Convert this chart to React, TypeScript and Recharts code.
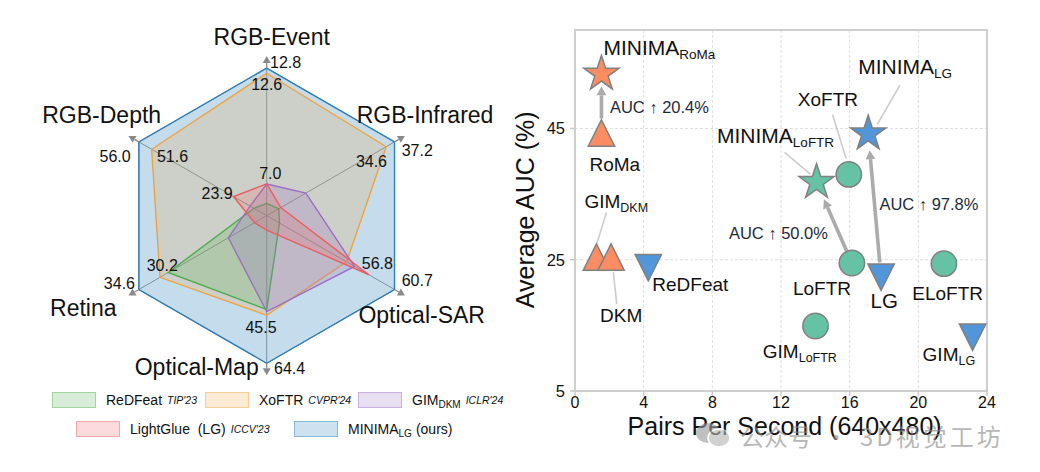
import React from 'react'
import {
  RadarChart, Radar, PolarGrid, PolarAngleAxis, PolarRadiusAxis,
  ScatterChart, Scatter, XAxis, YAxis, CartesianGrid, ReferenceLine, ReferenceArea, Label,
} from 'recharts'

const FONT = '"Liberation Sans", Arial, Helvetica, sans-serif'

// ---------- radar data ----------
const axes = ['RGB-Event', 'RGB-Infrared', 'Optical-SAR', 'Optical-Map', 'Retina', 'RGB-Depth']
// radial position on each axis, as a share of the outer ring (each axis has its own scale)
const minimaLG = [1, 1, 1, 1, 1, 1]
const xoftr = [0.965, 0.935, 0.625, 0.675, 0.835, 0.9]
const redfeat = [0.084, 0.094, 0.1, 0.635, 0.77, 0.1]
const gimDKM = [0.215, 0.306, 0.687, 0.65, 0.3, 0.13]
const lightglue = [0.215, 0.11, 0.8, 0.097, 0.095, 0.26]
// printed scores
const minimaScores = ['12.8', '37.2', '60.7', '64.4', '34.6', '56.0']
const xoftrScores = ['12.6', '34.6', '', '45.5', '30.2', '51.6']
const lightglueScores = ['7.0', '', '56.8', '', '', '23.9']

// ---------- scatter data ----------
const methods = ['MINIMA_RoMa', 'RoMa', 'GIM_DKM', 'DKM', 'ReDFeat', 'XoFTR', 'MINIMA_LoFTR', 'LoFTR', 'MINIMA_LG', 'LG', 'ELoFTR', 'GIM_LoFTR', 'GIM_LG']
const pairsPerSecond = [1.54, 1.54, 1.25, 2.1, 4.27, 15.95, 14.07, 16.13, 17.08, 17.83, 21.49, 14.01, 23.16]
const averageAUC = [53.3, 44.3, 25.4, 25.4, 23.8, 38.0, 36.8, 24.5, 44.2, 22.35, 24.4, 14.9, 13.2]
const gainFrom = ['RoMa', 'LoFTR', 'LG']
const gainTo = ['MINIMA_RoMa', 'MINIMA_LoFTR', 'MINIMA_LG']
const gainText = ['AUC ↑ 20.4%', 'AUC ↑ 50.0%', 'AUC ↑ 97.8%']
const xTicks = [0, 4, 8, 12, 16, 20, 24]
const yTicks = [5, 25, 45]

const radarData = axes.map((axis, i) => ({
  axis,
  minima: minimaLG[i],
  xoftr: xoftr[i],
  redfeat: redfeat[i],
  gim: gimDKM[i],
  lightglue: lightglue[i],
}))

const scatterData = methods.map((name, i) => ({ name, x: pairsPerSecond[i], y: averageAUC[i] }))

// ---------- radar styling ----------
const R_CX = 266.7
const R_CY = 215.7
const R_R = 147.6

type Off = [number, number, 'start' | 'middle' | 'end'] | null

const MINIMA_OFF: Off[] = [[3.3, -5.8, 'start'], [7.2, 8.8, 'start'], [7.2, -9.5, 'start'], [7.3, 5, 'start'], [-3.9, -6.2, 'end'], [-8.2, 14.8, 'end']]
const XOFTR_OFF: Off[] = [[0, 11.7, 'middle'], [0.8, 15.3, 'end'], null, [-5.7, 11.7, 'middle'], [2.3, -12.3, 'middle'], [5.3, 7.7, 'start']]
const LG_OFF: Off[] = [[3.6, -10, 'middle'], null, [-7.2, -11.4, 'start'], null, null, [-0.8, -3.2, 'end']]

const AXIS_LABEL_OFF: Record<string, [number, number]> = {
  'RGB-Event': [5, -31.4],
  'RGB-Infrared': [30.5, -26.9],
  'Optical-SAR': [27.2, 25.5],
  'Optical-Map': [-70, 3.4],
  'Retina': [-55.6, 18.8],
  'RGB-Depth': [-37.2, -26.9],
}

const RADAR_SERIES = [
  { key: 'minima', name: 'MINIMA_LG', venue: '(ours)', color: '#1f77b4', stroke: '#2f7fb8', fillOpacity: 0.26, scores: minimaScores, off: MINIMA_OFF },
  { key: 'xoftr', name: 'XoFTR', venue: "CVPR'24", color: '#f2a23c', stroke: '#f2a23c', fillOpacity: 0.2, scores: xoftrScores, off: XOFTR_OFF },
  { key: 'redfeat', name: 'ReDFeat', venue: "TIP'23", color: '#4fae4f', stroke: '#4fae4f', fillOpacity: 0.22, scores: null, off: null },
  { key: 'gim', name: 'GIM_DKM', venue: "ICLR'24", color: '#9b6fc4', stroke: '#9b6fc4', fillOpacity: 0.25, scores: null, off: null },
  { key: 'lightglue', name: 'LightGlue\u00a0 (LG)', venue: "ICCV'23", color: '#ef5b5f', stroke: '#ef5b5f', fillOpacity: 0.2, scores: lightglueScores, off: LG_OFF },
]

// legend placement (left edge of swatch, row centre)
const LEGEND_POS: Record<string, [number, number]> = {
  redfeat: [52, 400],
  xoftr: [205, 400],
  gim: [358, 400],
  lightglue: [76, 429],
  minima: [294, 429],
}
const LEGEND_ORDER = ['redfeat', 'xoftr', 'gim', 'lightglue', 'minima']

function AxisTick(props: any) {
  const { payload } = props
  const name = payload.value
  const rad = (payload.coordinate * Math.PI) / 180
  const ux = Math.cos(rad)
  const uy = -Math.sin(rad)
  const vx = R_CX + R_R * ux
  const vy = R_CY + R_R * uy
  const tipR = R_R + 12
  const baseR = R_R + 5
  const tx = R_CX + tipR * ux
  const ty = R_CY + tipR * uy
  const bx = R_CX + baseR * ux
  const by = R_CY + baseR * uy
  const px = -uy
  const py = ux
  const off = AXIS_LABEL_OFF[name] || [0, 0]
  return (
    <g>
      <line x1={vx} y1={vy} x2={bx} y2={by} stroke="#8a8a8a" strokeWidth={1.3} />
      <polygon points={`${tx},${ty} ${bx + px * 4},${by + py * 4} ${bx - px * 4},${by - py * 4}`} fill="#8a8a8a" />
      <text x={vx + off[0]} y={vy + off[1]} textAnchor="middle" dominantBaseline="central" fontSize={23} fill="#111" fontFamily={FONT}>
        {name}
      </text>
    </g>
  )
}

const makeScoreDot = (scores: string[], offs: Off[]) => (props: any) => {
  const { cx, cy, index } = props
  const s = scores[index]
  const o = offs[index]
  if (!s || !o) return <g key={`sd-${index}`} />
  return (
    <text key={`sd-${index}`} x={cx + o[0]} y={cy + o[1]} textAnchor={o[2]} dominantBaseline="central" fontSize={16} fill="#111" stroke="none" fontFamily={FONT}>
      {s}
    </text>
  )
}

function NameWithSub({ name, size, subSize }: { name: string; size: number; subSize: number }) {
  const [main, sub] = name.split('_')
  return (
    <span style={{ fontSize: size }}>
      {main}
      {sub && <span style={{ fontSize: subSize, position: 'relative', top: 3 }}>{sub}</span>}
    </span>
  )
}

function RadarLegend() {
  return (
    <>
      {LEGEND_ORDER.map((k) => {
        const s = RADAR_SERIES.find((r) => r.key === k)!
        const [left, cy] = LEGEND_POS[k]
        return (
          <div key={k} style={{ position: 'absolute', left, top: cy - 10, height: 20, display: 'flex', alignItems: 'center', whiteSpace: 'nowrap', color: '#111', fontFamily: FONT }}>
            <div style={{ width: 42, height: 14, background: s.color + '38', border: `1px solid ${s.color}66`, marginRight: 10 }} />
            <NameWithSub name={s.name} size={14} subSize={10} />
            <span style={{ fontSize: s.key === 'minima' ? 14 : 10.5, fontStyle: s.key === 'minima' ? 'normal' : 'italic', marginLeft: s.key === 'minima' ? 4 : 5 }}>
              {s.venue}
            </span>
          </div>
        )
      })}
    </>
  )
}

// ---------- scatter styling ----------
const ORANGE = '#fc8d62'
const TEAL = '#66c2a5'
const BLUE = '#5096d8'

const MARKERS: Record<string, [string, string]> = {
  MINIMA_RoMa: ['star', ORANGE],
  RoMa: ['tri', ORANGE],
  GIM_DKM: ['tri', ORANGE],
  DKM: ['tri', ORANGE],
  ReDFeat: ['tridown', BLUE],
  XoFTR: ['circle', TEAL],
  MINIMA_LoFTR: ['star', TEAL],
  LoFTR: ['circle', TEAL],
  MINIMA_LG: ['star', BLUE],
  LG: ['tridown', BLUE],
  ELoFTR: ['circle', TEAL],
  GIM_LoFTR: ['circle', TEAL],
  GIM_LG: ['tridown', BLUE],
}

type Lab = { dx: number; dy: number; size: number; sub?: number; leader?: [number, number, number, number] }
const LABELS: Record<string, Lab> = {
  MINIMA_RoMa: { dx: 2, dy: -27, size: 21, sub: 13.5 },
  RoMa: { dx: -12, dy: 31, size: 19 },
  GIM_DKM: { dx: -12, dy: -56, size: 19, sub: 12.5, leader: [10, -44.5, 0, -12.3] },
  DKM: { dx: -11, dy: 58, size: 19, leader: [2.3, 15, 5.7, 47] },
  ReDFeat: { dx: 4, dy: 17, size: 19 },
  XoFTR: { dx: -51, dy: -75.5, size: 19, leader: [-16.3, -60, -2.7, -16] },
  MINIMA_LoFTR: { dx: -99.5, dy: -47, size: 21, sub: 13.5, leader: [-32, -30, -6, -8] },
  MINIMA_LG: { dx: -10, dy: -67, size: 21, sub: 13.5, leader: [31.6, -48.3, 9, -9] },
  LoFTR: { dx: -59, dy: 25, size: 19 },
  LG: { dx: -10.5, dy: 23, size: 20.5 },
  ELoFTR: { dx: -31.6, dy: 29, size: 19 },
  GIM_LoFTR: { dx: -52.7, dy: 25, size: 19, sub: 12.5 },
  GIM_LG: { dx: -50, dy: 17, size: 19, sub: 12.5 },
}

const ARROW_STYLE = [
  { trimStart: 14.5, trimEnd: 12.3, dx: 8.5, dy: -25.7 },
  { trimStart: 13.4, trimEnd: 18.5, dx: -123, dy: -30.5 },
  { trimStart: 14.7, trimEnd: 16.5, dx: -1.7, dy: -73 },
]

function starPoints(cx: number, cy: number, R: number, r: number) {
  const pts: string[] = []
  for (let k = 0; k < 10; k++) {
    const rad = k % 2 === 0 ? R : r
    const a = -Math.PI / 2 + (k * Math.PI) / 5
    pts.push(`${cx + rad * Math.cos(a)},${cy + rad * Math.sin(a)}`)
  }
  return pts.join(' ')
}

function PointShape(props: any) {
  const { cx, cy, payload } = props
  const name: string = payload.name
  const [kind, color] = MARKERS[name]
  const lab = LABELS[name]
  const edge = { stroke: '#808080', strokeWidth: 1.5 }
  let marker: React.ReactNode
  if (kind === 'circle') marker = <circle cx={cx} cy={cy} r={12.7} fill={color} {...edge} />
  else if (kind === 'star') marker = <polygon points={starPoints(cx, cy, 18.5, 18.5 * 0.382)} fill={color} strokeLinejoin="miter" {...edge} />
  else if (kind === 'tri') {
    const h = 13.2
    marker = <polygon points={`${cx},${cy - h} ${cx - h},${cy + h} ${cx + h},${cy + h}`} fill={color} {...edge} />
  } else {
    const h = 13.2
    marker = <polygon points={`${cx},${cy + h} ${cx - h},${cy - h} ${cx + h},${cy - h}`} fill={color} {...edge} />
  }
  const [main, sub] = name.split('_')
  return (
    <g>
      {lab.leader && (
        <line x1={cx + lab.leader[0]} y1={cy + lab.leader[1]} x2={cx + lab.leader[2]} y2={cy + lab.leader[3]} stroke="#cccccc" strokeWidth={1.6} />
      )}
      {marker}
      <text x={cx + lab.dx} y={cy + lab.dy + lab.size * 0.36} fontSize={lab.size} fill="#111" fontFamily={FONT}>
        {main}
        {sub && (
          <tspan fontSize={lab.sub} dy={4}>
            {sub}
          </tspan>
        )}
      </text>
    </g>
  )
}

const makeArrow = (i: number) => (p: any) => {
  const { x1, y1, x2, y2 } = p
  const a = ARROW_STYLE[i]
  const dx = x2 - x1
  const dy = y2 - y1
  const len = Math.hypot(dx, dy) || 1
  const ux = dx / len
  const uy = dy / len
  const sx = x1 + ux * a.trimStart
  const sy = y1 + uy * a.trimStart
  const ex = x2 - ux * a.trimEnd
  const ey = y2 - uy * a.trimEnd
  const head = 9
  const half = 4.8
  const bx = ex - ux * head
  const by = ey - uy * head
  return (
    <g>
      <line x1={sx} y1={sy} x2={bx} y2={by} stroke="#ababab" strokeWidth={3.6} />
      <polygon points={`${ex},${ey} ${bx - uy * half},${by + ux * half} ${bx + uy * half},${by - ux * half}`} fill="#ababab" />
      <text x={x1 + a.dx} y={y1 + a.dy} dominantBaseline="central" fontSize={16.5} fill="#1e2a3b" fontFamily={FONT}>
        {gainText[i]}
      </text>
    </g>
  )
}

const XTitle = (p: any) => {
  const vb = p.viewBox || { x: 65, y: 391, width: 412, height: 81 }
  return (
    <text x={vb.x + vb.width / 2 + 3.6} y={vb.y + 34.8} textAnchor="middle" dominantBaseline="central" fontSize={25} fill="#111" fontFamily={FONT}>
      Pairs Per Second (640x480)
    </text>
  )
}

const YTitle = (p: any) => {
  const vb = p.viewBox || { x: 0, y: 30, width: 65, height: 361 }
  const x = vb.x + 15.3
  const y = vb.y + vb.height / 2 - 0.7
  return (
    <text x={x} y={y} transform={`rotate(-90 ${x} ${y})`} textAnchor="middle" dominantBaseline="central" fontSize={25} fill="#111" fontFamily={FONT}>
      Average AUC (%)
    </text>
  )
}

function Watermark() {
  return (
    <div style={{ position: 'absolute', left: 694, top: 420, height: 30, display: 'flex', alignItems: 'center', pointerEvents: 'none', opacity: 0.62 }}>
      <svg width={38} height={28} style={{ marginRight: 8 }}>
        <ellipse cx={14} cy={12} rx={12} ry={10} fill="#9a9a9a" />
        <ellipse cx={25} cy={17} rx={11} ry={9} fill="#b5b5b5" stroke="#fff" strokeWidth={1.5} />
      </svg>
      <span style={{ fontFamily: '"Noto Sans CJK SC", sans-serif', fontSize: 24, color: '#8c8c8c', whiteSpace: 'nowrap' }}>
        公众号
        <span style={{ margin: '0 12px' }}>·</span>
        <span style={{ letterSpacing: 3 }}>3D视觉工坊</span>
      </span>
    </div>
  )
}

export default function App() {
  return (
    <div style={{ position: 'absolute', left: 0, top: 0, width: 1040, height: 472, background: '#fff', overflow: 'hidden', fontFamily: FONT }}>
      <div style={{ position: 'absolute', left: 0, top: 0 }}>
        <RadarChart width={520} height={390} data={radarData} cx={R_CX} cy={R_CY} outerRadius={R_R} margin={{ top: 0, right: 0, bottom: 0, left: 0 }}>
          <PolarGrid gridType="polygon" stroke="#9c9c9c" strokeWidth={1} />
          <PolarRadiusAxis domain={[0, 1]} tickCount={6} tick={false} axisLine={false} />
          <PolarAngleAxis dataKey="axis" tick={AxisTick} axisLine={false} tickLine={false} />
          {RADAR_SERIES.map((s) => (
            <Radar
              key={s.key}
              dataKey={s.key}
              name={s.name}
              stroke={s.stroke}
              strokeWidth={1.4}
              fill={s.color}
              fillOpacity={s.fillOpacity}
              dot={s.scores && s.off ? makeScoreDot(s.scores, s.off) : false}
              isAnimationActive={false}
            />
          ))}
        </RadarChart>
      </div>
      <RadarLegend />
      <div style={{ position: 'absolute', left: 510, top: 0 }}>
        <ScatterChart width={530} height={472} margin={{ top: 30, right: 53, bottom: 0, left: 0 }}>
          <CartesianGrid strokeDasharray="3 2" stroke="#dedede" />
          <XAxis
            type="number"
            dataKey="x"
            domain={[0, 24]}
            ticks={xTicks}
            interval={0}
            height={81}
            axisLine={false}
            tickLine={{ stroke: '#c8c8c8', strokeWidth: 1.5 }}
            tickSize={5}
            tickMargin={1}
            tick={{ fontSize: 16, fill: '#111', fontFamily: FONT }}
          >
            <Label content={XTitle} />
          </XAxis>
          <YAxis
            type="number"
            dataKey="y"
            domain={[5, 60]}
            ticks={yTicks}
            interval={0}
            width={65}
            axisLine={false}
            tickLine={{ stroke: '#c8c8c8', strokeWidth: 1.5 }}
            tickSize={5}
            tickMargin={5}
            tick={{ fontSize: 16.5, fill: '#111', fontFamily: FONT }}
          >
            <Label content={YTitle} />
          </YAxis>
          <ReferenceArea x1={0} x2={24} y1={5} y2={60} fill="none" fillOpacity={0} stroke="#cfcfcf" strokeWidth={2} ifOverflow="visible" />
          {gainFrom.map((from, i) => {
            const a = methods.indexOf(from)
            const b = methods.indexOf(gainTo[i])
            return (
              <ReferenceLine
                key={from}
                segment={[{ x: pairsPerSecond[a], y: averageAUC[a] }, { x: pairsPerSecond[b], y: averageAUC[b] }]}
                shape={makeArrow(i)}
                ifOverflow="visible"
              />
            )
          })}
          <Scatter data={scatterData} shape={PointShape} isAnimationActive={false} />
        </ScatterChart>
      </div>
      <Watermark />
    </div>
  )
}
